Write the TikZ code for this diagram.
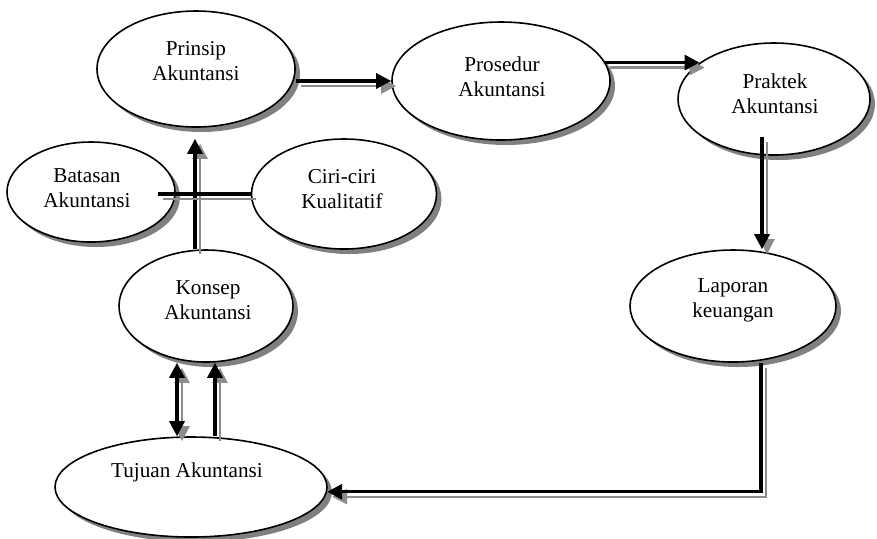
\documentclass[tikz,border=0pt]{standalone}
\usepackage{fontspec}
\setmainfont{Liberation Serif}
\usetikzlibrary{arrows.meta,positioning,calc,shapes.geometric,shadows}

\begin{document}
\begin{tikzpicture}[x=0.5pt, y=-0.5pt,
  >={Triangle[length=7.5pt, width=7.5pt]},
  oval/.style={ellipse, draw=black, fill=white, line width=.8pt, inner sep=0pt, drop shadow={shadow xshift=2.5pt, shadow yshift=-2.5pt, fill=gray, opacity=1}},
  txt/.style={align=center, inner sep=0pt, font=\fontsize{10.6}{12.5}\selectfont},
  link/.style={draw=black, line width=1.6pt, preaction={draw=gray!90, line width=1.1pt, transform canvas={shift={(2.5pt,-2.5pt)}}}},
  edge/.style={link, ->},
  biedge/.style={link, <->}
]
\useasboundingbox (0,0) rectangle (877,538);
% ellipses
\node[oval, minimum width=99pt, minimum height=58pt] (prinsip) at (196,69) {};
\node[oval, minimum width=109pt, minimum height=59pt] (prosedur) at (501,81) {};
\node[oval, minimum width=96pt, minimum height=56pt] (praktek) at (774,99) {};
\node[oval, minimum width=84pt, minimum height=50pt] (batasan) at (91,192) {};
\node[oval, minimum width=92.5pt, minimum height=55pt] (ciri) at (344,194) {};
\node[oval, minimum width=87pt, minimum height=56pt] (konsep) at (206,306) {};
\node[oval, minimum width=103pt, minimum height=56pt] (laporan) at (733,306) {};
\node[oval, minimum width=136pt, minimum height=50pt] (tujuan) at (191,487) {};
% texts
\node[txt] (prinsip-txt) at (196,61) {Prinsip\\Akuntansi};
\node[txt] (prosedur-txt) at (502,77) {Prosedur\\Akuntansi};
\node[txt] (praktek-txt) at (775,94) {Praktek\\Akuntansi};
\node[txt] (batasan-txt) at (87,188) {Batasan\\Akuntansi};
\node[txt] (ciri-txt) at (342,189) {Ciri-ciri\\Kualitatif};
\node[txt] (konsep-txt) at (208,300) {Konsep\\Akuntansi};
\node[txt] (laporan-txt) at (733,300) {Laporan\\keuangan};
\node[txt] (tujuan-txt) at (187,472) {Tujuan Akuntansi};
% connectors
\draw[edge] (prinsip.east |- prosedur.west) -- (prosedur.west);
\draw[edge] (prosedur.10) -- (prosedur.10 -| praktek.154);
\coordinate (pk) at ($(praktek)+(-12,38)$);
\draw[edge] (pk) -- (pk |- laporan.north);
\coordinate (lp) at ($(laporan.south)+(28,0)$);
\draw[edge] (lp) |- (tujuan.-2.5);
\coordinate (ks) at ($(konsep.north)+(-11,0)$);
\draw[edge, shorten >=5.5pt] (ks) -- (ks |- prinsip.south);
\coordinate (bt) at ($(batasan.east)+(-18,0)$);
\draw[link] (bt |- ciri.west) -- (ciri.west);
\coordinate (kt) at ($(konsep.south)+(-29,0)$);
\draw[biedge] (kt) -- (kt |- tujuan.north);
\coordinate (tk) at ($(tujuan.north)+(24,0)$);
\draw[edge] (tk) -- (tk |- konsep.south);
\end{tikzpicture}
\end{document}
